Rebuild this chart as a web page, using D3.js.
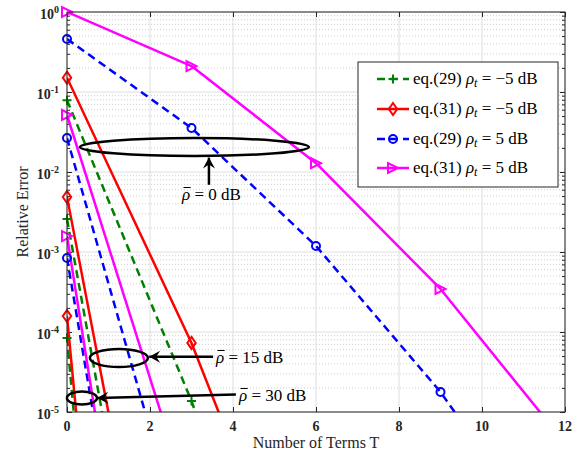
<!DOCTYPE html>
<html><head><meta charset="utf-8">
<script src="https://cdn.jsdelivr.net/npm/d3@7"></script>
<style>body{margin:0;background:#fff}svg{display:block}</style>
</head><body>
<svg id="c" width="583" height="460"></svg>
<script>
// ---------- data ----------
const T = [0, 3, 6, 9, 12];
const xTicks = [0, 2, 4, 6, 8, 10, 12];
const yTickExps = [0, -1, -2, -3, -4, -5];
const seriesLabels = [
  ["eq.(29) ", "−5"], ["eq.(31) ", "−5"], ["eq.(29) ", "5"], ["eq.(31) ", "5"]
];
// eq.(29) rho_t = -5 dB  (green)
const eq29m5_0dB  = [0.079, 1.37e-5, 6e-10, 2e-14, 1e-18];
const eq29m5_15dB = [2.58e-3, 7e-12];
const eq29m5_30dB = [8.4e-5, 6e-22];
// eq.(31) rho_t = -5 dB  (red)
const eq31m5_0dB  = [0.151, 7.3e-5, 7.9e-9, 1e-12];
const eq31m5_15dB = [4.87e-3, 4e-11];
const eq31m5_30dB = [1.58e-4, 7.6e-21];
// eq.(29) rho_t = 5 dB  (blue)
const eq29p5_0dB  = [0.46, 0.0355, 1.19e-3, 1.78e-5, 1.1e-7];
const eq29p5_15dB = [0.0266, 9.2e-8];
const eq29p5_30dB = [8.4e-4, 5.5e-13];
// eq.(31) rho_t = 5 dB  (magenta)
const eq31p5_0dB  = [1.0, 0.211, 0.0129, 3.45e-4, 4.1e-6];
const eq31p5_15dB = [0.0516, 6e-7];
const eq31p5_30dB = [1.58e-3, 2.5e-13];

const rhoBarTexts = ["0", "15", "30"];

// ---------- styling ----------
const styles = [
  {color: "#008000", dash: "8,5", marker: "plus"},
  {color: "#ff0000", dash: null, marker: "diamond"},
  {color: "#0000ff", dash: "8,5", marker: "circle"},
  {color: "#ff00ff", dash: null, marker: "triangle"}
];
const seriesData = [
  [eq29m5_0dB, eq29m5_15dB, eq29m5_30dB],
  [eq31m5_0dB, eq31m5_15dB, eq31m5_30dB],
  [eq29p5_0dB, eq29p5_15dB, eq29p5_30dB],
  [eq31p5_0dB, eq31p5_15dB, eq31p5_30dB]
];

const L = 67, R = 565, TOP = 12, BOT = 412;
const x = d3.scaleLinear().domain([0, 12]).range([L, R]);
const y = d3.scaleLog().domain([1e-5, 1]).range([BOT, TOP]);

const svg = d3.select("#c");
const serif = "'Liberation Serif', 'Times New Roman', serif";

svg.append("defs").append("clipPath").attr("id", "clip")
  .append("rect").attr("x", L).attr("y", TOP).attr("width", R - L).attr("height", BOT - TOP);

svg.append("rect").attr("x", L).attr("y", TOP).attr("width", R - L).attr("height", BOT - TOP).attr("fill", "#fff");

// grid
const grid = svg.append("g");
const minorVals = [];
for (let e = -5; e < 0; e++) for (let m = 2; m <= 9; m++) minorVals.push(m * Math.pow(10, e));
grid.selectAll(".mg").data(minorVals).enter().append("line")
  .attr("x1", L).attr("x2", R).attr("y1", d => y(d)).attr("y2", d => y(d))
  .attr("stroke", "#cfcfcf").attr("stroke-width", 1).attr("stroke-dasharray", "1,2");
grid.selectAll(".gy").data(yTickExps).enter().append("line")
  .attr("x1", L).attr("x2", R).attr("y1", d => y(Math.pow(10, d))).attr("y2", d => y(Math.pow(10, d)))
  .attr("stroke", "#dedede").attr("stroke-width", 1);
grid.selectAll(".gx").data(xTicks).enter().append("line")
  .attr("y1", TOP).attr("y2", BOT).attr("x1", d => x(d)).attr("x2", d => x(d))
  .attr("stroke", "#dedede").attr("stroke-width", 1);

// axes with d3 axis (ticks inward)
const axisColor = "#262626";
function styleAxis(g) {
  g.select(".domain").remove();
  g.selectAll(".tick line").attr("stroke", axisColor);
  g.selectAll("text").remove();
}
svg.append("g").attr("transform", `translate(0,${BOT})`)
  .call(d3.axisBottom(x).tickValues(xTicks).tickSizeInner(-5).tickSizeOuter(0)).call(styleAxis);
svg.append("g").attr("transform", `translate(0,${TOP})`)
  .call(d3.axisTop(x).tickValues(xTicks).tickSizeInner(-5).tickSizeOuter(0)).call(styleAxis);
const majorY = yTickExps.map(e => Math.pow(10, e));
svg.append("g").attr("transform", `translate(${L},0)`)
  .call(d3.axisLeft(y).tickValues(majorY).tickSizeInner(-5).tickSizeOuter(0)).call(styleAxis);
svg.append("g").attr("transform", `translate(${R},0)`)
  .call(d3.axisRight(y).tickValues(majorY).tickSizeInner(-5).tickSizeOuter(0)).call(styleAxis);
svg.append("g").attr("transform", `translate(${L},0)`)
  .call(d3.axisLeft(y).tickValues(minorVals).tickSizeInner(-3).tickSizeOuter(0)).call(styleAxis);
svg.append("g").attr("transform", `translate(${R},0)`)
  .call(d3.axisRight(y).tickValues(minorVals).tickSizeInner(-3).tickSizeOuter(0)).call(styleAxis);

// tick labels
svg.append("g").selectAll("text").data(xTicks).enter().append("text")
  .attr("x", d => x(d)).attr("y", 431).attr("text-anchor", "middle")
  .attr("font-family", serif).attr("font-weight", "bold").attr("font-size", 14)
  .attr("fill", axisColor).text(d => d);
const yl = svg.append("g").selectAll("text").data(yTickExps).enter().append("text")
  .attr("x", 59).attr("y", d => y(Math.pow(10, d)) + 7).attr("text-anchor", "end")
  .attr("font-family", serif).attr("font-weight", "bold").attr("font-size", 14).attr("fill", axisColor);
yl.append("tspan").text("10");
yl.append("tspan").attr("dy", -6).attr("font-size", 10).text(d => d === 0 ? "0" : "-" + Math.abs(d));

// axis labels
svg.append("text").attr("x", (L + R) / 2).attr("y", 448).attr("text-anchor", "middle")
  .attr("font-family", serif).attr("font-size", 16).attr("fill", axisColor).text("Number of Terms T");
svg.append("text").attr("transform", `translate(28,${(TOP + BOT) / 2}) rotate(-90)`).attr("text-anchor", "middle")
  .attr("font-family", serif).attr("font-size", 16).attr("fill", axisColor).text("Relative Error");

// marker shapes
function markerPath(type) {
  switch (type) {
    case "plus": return "M-4.5,0H4.5M0,-4.5V4.5";
    case "diamond": return "M0,-6L4.2,0L0,6L-4.2,0Z";
    case "circle": return d3.symbol().type(d3.symbolCircle).size(Math.PI * 16)();
    case "triangle": return "M5,0L-5,-5L-5,5Z";
  }
}

// lines
const line = d3.line().x(d => x(d[0])).y(d => y(d[1]));
const plot = svg.append("g").attr("clip-path", "url(#clip)");
const markG = svg.append("g");
seriesData.forEach((group, si) => {
  const st = styles[si];
  group.forEach(vals => {
    const pts = vals.map((v, i) => [T[i], v]);
    plot.append("path").datum(pts).attr("d", line)
      .attr("fill", "none").attr("stroke", st.color).attr("stroke-width", 2.5)
      .attr("stroke-dasharray", st.dash).attr("stroke-linejoin", "round");
    markG.selectAll(null).data(pts.filter(p => p[1] >= 1e-5 && p[1] <= 1)).enter().append("path")
      .attr("transform", p => `translate(${x(p[0])},${y(p[1])})`)
      .attr("d", markerPath(st.marker)).attr("fill", "none")
      .attr("stroke", st.color).attr("stroke-width", 2);
  });
});

// axes box
svg.append("rect").attr("x", L).attr("y", TOP).attr("width", R - L).attr("height", BOT - TOP)
  .attr("fill", "none").attr("stroke", axisColor).attr("stroke-width", 1);

// annotations
const ann = svg.append("g");
function arrow(x1, y1, x2, y2) {
  ann.append("line").attr("x1", x1).attr("y1", y1).attr("x2", x2).attr("y2", y2)
    .attr("stroke", "#000").attr("stroke-width", 2.5);
  const ang = Math.atan2(y2 - y1, x2 - x1);
  const p = (l, w) => [x2 - l * Math.cos(ang) - w * Math.sin(ang), y2 - l * Math.sin(ang) + w * Math.cos(ang)];
  const pts = [[x2, y2], p(11, 6), p(7, 0), p(11, -6)];
  ann.append("path").attr("d", "M" + pts.map(q => q.join(",")).join("L") + "Z").attr("fill", "#000");
}
function ellipse(cx, cy, rx, ry) {
  ann.append("ellipse").attr("cx", cx).attr("cy", cy).attr("rx", rx).attr("ry", ry)
    .attr("fill", "none").attr("stroke", "#000").attr("stroke-width", 2.5);
}
function rhoText(xp, yp, val) {
  const r = ann.append("text").attr("x", xp).attr("y", yp).attr("font-family", serif)
    .attr("font-size", 17).attr("font-style", "italic").attr("fill", "#000").text("ρ");
  const w = r.node().getComputedTextLength();
  ann.append("line").attr("x1", xp + 1.5).attr("x2", xp + w + 0.5).attr("y1", yp - 12.5).attr("y2", yp - 12.5)
    .attr("stroke", "#000").attr("stroke-width", 1);
  ann.append("text").attr("x", xp + w).attr("y", yp).attr("font-family", serif)
    .attr("font-size", 17).attr("fill", "#000").attr("xml:space", "preserve").text(" = " + val + " dB");
}
// 0 dB
ellipse(x(3.07), y(Math.pow(10, -1.6875)), 114.5, 9);
arrow(x(3.42), y(Math.pow(10, -2.16)), x(3.42), y(Math.pow(10, -1.82)));
rhoText(182, 200, rhoBarTexts[0]);
// 15 dB
ellipse(x(1.25), y(Math.pow(10, -4.325)), 29, 9);
arrow(x(3.52), y(Math.pow(10, -4.31)), x(1.98), y(Math.pow(10, -4.31)));
rhoText(216, 363, rhoBarTexts[1]);
// 30 dB
ellipse(x(0.36), y(Math.pow(10, -4.825)), 15, 6.5);
arrow(x(4.07), y(Math.pow(10, -4.78)), x(0.73), y(Math.pow(10, -4.825)));
rhoText(239, 401, rhoBarTexts[2]);

// legend
const lg = svg.append("g");
lg.append("rect").attr("x", 358).attr("y", 62).attr("width", 200).attr("height", 125)
  .attr("fill", "#fff").attr("stroke", axisColor).attr("stroke-width", 1);
const legY = [79, 109, 139, 168];
styles.forEach((st, i) => {
  lg.append("line").attr("x1", 377).attr("x2", 409).attr("y1", legY[i]).attr("y2", legY[i])
    .attr("stroke", st.color).attr("stroke-width", 2.5).attr("stroke-dasharray", st.dash);
  lg.append("path").attr("transform", `translate(393,${legY[i]})`).attr("d", markerPath(st.marker))
    .attr("fill", "none").attr("stroke", st.color).attr("stroke-width", 2);
  const t = lg.append("text").attr("x", 413).attr("y", legY[i] + 5).attr("font-family", serif)
    .attr("font-size", 17).attr("fill", "#000");
  t.append("tspan").text(seriesLabels[i][0]);
  t.append("tspan").attr("font-style", "italic").text("ρ");
  t.append("tspan").attr("font-style", "italic").attr("font-size", 12).attr("dy", 3).text("t");
  t.append("tspan").attr("dy", -3).text(" = " + seriesLabels[i][1] + " dB");
});
</script>
</body></html>
